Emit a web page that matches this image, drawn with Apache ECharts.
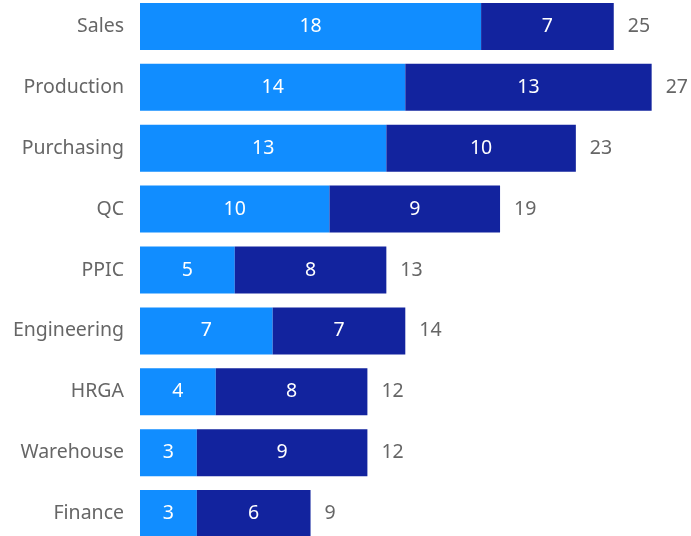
<!DOCTYPE html>
<html>
<head>
<meta charset="utf-8">
<script src="https://cdn.jsdelivr.net/npm/echarts@6/dist/echarts.min.js"></script>
<style>
  html, body { margin: 0; padding: 0; background: #fff; }
  #chart { width: 691px; height: 536px; }
</style>
</head>
<body>
<div id="chart"></div>
<script>
const categories = ['Sales', 'Production', 'Purchasing', 'QC', 'PPIC', 'Engineering', 'HRGA', 'Warehouse', 'Finance'];
const firstValues = [18, 14, 13, 10, 5, 7, 4, 3, 3];
const secondValues = [7, 13, 10, 9, 8, 7, 8, 9, 6];
const totals = firstValues.map((v, i) => v + secondValues[i]);

const colors = ['#118DFF', '#12239E'];
const font = 'Segoe UI, "Noto Sans", sans-serif';
const fs = 19.5;

const chart = echarts.init(document.getElementById('chart'));

const inside = {
  show: true,
  position: 'inside',
  color: '#fff',
  fontSize: fs,
  fontFamily: font
};

chart.setOption({
  animation: false,
  grid: {
    left: 140, top: -4, width: 568.5, height: 548,
    containLabel: false, outerBoundsMode: 'none'
  },
  xAxis: { type: 'value', min: 0, max: 30, show: false },
  yAxis: {
    type: 'category',
    data: categories,
    inverse: true,
    axisLine: { show: false },
    axisTick: { show: false },
    axisLabel: { color: '#666', fontSize: fs, fontFamily: font, margin: 16 }
  },
  series: [
    {
      type: 'bar', stack: 'a', barWidth: 47, data: firstValues,
      itemStyle: { color: colors[0] }, label: inside
    },
    {
      type: 'bar', stack: 'a', barWidth: 47, data: secondValues,
      itemStyle: { color: colors[1] }, label: inside
    },
    {
      type: 'bar', stack: 'a', barWidth: 47, data: categories.map(() => 0),
      itemStyle: { color: 'transparent' },
      label: {
        show: true, position: 'right', distance: 14,
        color: '#666', fontSize: fs, fontFamily: font,
        formatter: p => totals[p.dataIndex]
      }
    }
  ]
});
</script>
</body>
</html>
